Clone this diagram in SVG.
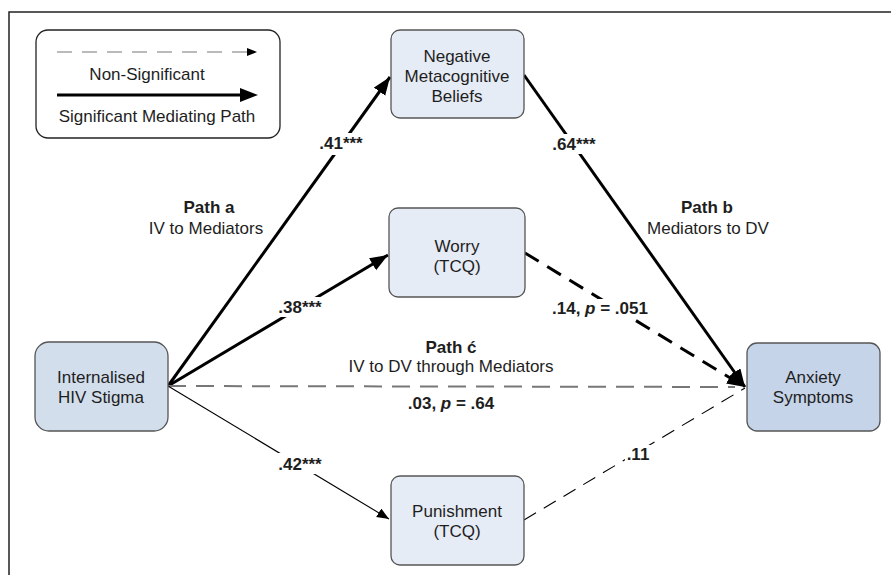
<svg xmlns="http://www.w3.org/2000/svg" width="891" height="575" viewBox="0 0 891 575">
<defs>
<marker id="ah" markerWidth="20" markerHeight="16" refX="18" refY="7" orient="auto" markerUnits="userSpaceOnUse"><path d="M0,0 L18,7 L0,14 Z" fill="#000"/></marker>
<marker id="ahs" markerWidth="14" markerHeight="12" refX="12" refY="5" orient="auto" markerUnits="userSpaceOnUse"><path d="M0,0 L12,5 L0,10 Z" fill="#000"/></marker>
</defs>
<style>
text{font-family:"Liberation Sans",Arial,sans-serif;font-size:17px;fill:#1e1e1e;text-anchor:middle}
.b{font-weight:bold}
.box{stroke:#555;stroke-width:1.3}
.med{fill:#e6ecf5}
.thick{stroke:#000;stroke-width:3;fill:none}
.thin{stroke:#000;stroke-width:1.1;fill:none}
.mask{fill:#fff}
</style>
<rect width="891" height="575" fill="#fff"/>
<path d="M9,575 V12 H891" fill="none" stroke="#222" stroke-width="1.5"/>

<g id="legend">
<rect x="36" y="30" width="244" height="108" rx="12" fill="#fff" stroke="#222" stroke-width="1.3"/>
<line x1="57" y1="52" x2="250" y2="52" stroke="#777" stroke-width="1.2" stroke-dasharray="15,10"/>
<path d="M247,48 L257,52 L247,56 Z" fill="#000"/>
<text x="147" y="80">Non-Significant</text>
<line x1="57" y1="95" x2="244" y2="95" stroke="#000" stroke-width="3"/>
<path d="M240,88 L258,95 L240,102 Z" fill="#000"/>
<text x="157" y="122">Significant Mediating Path</text>
</g>

<g id="connectors">
<line class="thick" x1="168" y1="386" x2="390" y2="77" marker-end="url(#ah)"/>
<line class="thick" x1="168" y1="386" x2="388" y2="255" marker-end="url(#ah)"/>
<line x1="168" y1="386" x2="735" y2="387" stroke="#777" stroke-width="2" stroke-dasharray="18,10"/>
<line class="thin" x1="168" y1="386" x2="389" y2="519" marker-end="url(#ahs)"/>
<line class="thick" x1="524" y1="75" x2="745" y2="387" marker-end="url(#ah)"/>
<line x1="525" y1="253" x2="745" y2="387" stroke="#000" stroke-width="3" stroke-dasharray="16,10" marker-end="url(#ah)"/>
<line x1="524" y1="520" x2="745" y2="388" stroke="#000" stroke-width="1.1" stroke-dasharray="14,9"/>
<rect class="mask" x="316" y="133" width="50" height="22" />
<rect class="mask" x="276" y="297" width="48" height="20"/>
<rect class="mask" x="276" y="453" width="48" height="21"/>
<rect class="mask" x="549" y="134" width="50" height="20"/>
<rect class="mask" x="551" y="299" width="98" height="20"/>
<rect class="mask" x="625" y="445" width="28" height="20"/>
<rect class="mask" x="401" y="394" width="100" height="20"/>
</g>

<g id="labels">
<text class="b" x="341" y="149">.41***</text>
<text class="b" x="300" y="313">.38***</text>
<text class="b" x="300" y="470">.42***</text>
<text class="b" x="574" y="150">.64***</text>
<text class="b" x="600" y="314">.14, <tspan font-style="italic">p</tspan> = .051</text>
<text class="b" x="638" y="460">.11</text>
<text class="b" x="209" y="213">Path a</text>
<text x="206" y="234">IV to Mediators</text>
<text class="b" x="707" y="213">Path b</text>
<text x="708" y="234">Mediators to DV</text>
<text class="b" x="451" y="353">Path ć</text>
<text x="451" y="372">IV to DV through Mediators</text>
<text class="b" x="451" y="409">.03, <tspan font-style="italic">p</tspan> = .64</text>
</g>

<g id="nmb">
<rect class="box med" x="391" y="30" width="133" height="88" rx="9"/>
<text x="457" y="62">Negative</text>
<text x="457" y="82">Metacognitive</text>
<text x="457" y="102">Beliefs</text>
</g>
<g id="worry">
<rect class="box med" x="389" y="208" width="136" height="89" rx="9"/>
<text x="457" y="252">Worry</text>
<text x="457" y="272">(TCQ)</text>
</g>
<g id="punishment">
<rect class="box med" x="391" y="476" width="133" height="89" rx="9"/>
<text x="457" y="517">Punishment</text>
<text x="457" y="537">(TCQ)</text>
</g>
<g id="stigma">
<rect class="box" x="35" y="342" width="133" height="89" rx="14" fill="#d3deed"/>
<text x="101" y="383">Internalised</text>
<text x="101" y="403">HIV Stigma</text>
</g>
<g id="anxiety">
<rect class="box" x="747" y="343" width="133" height="88" rx="10" fill="#c6d4e9"/>
<text x="813" y="383">Anxiety</text>
<text x="813" y="403">Symptoms</text>
</g>
</svg>
